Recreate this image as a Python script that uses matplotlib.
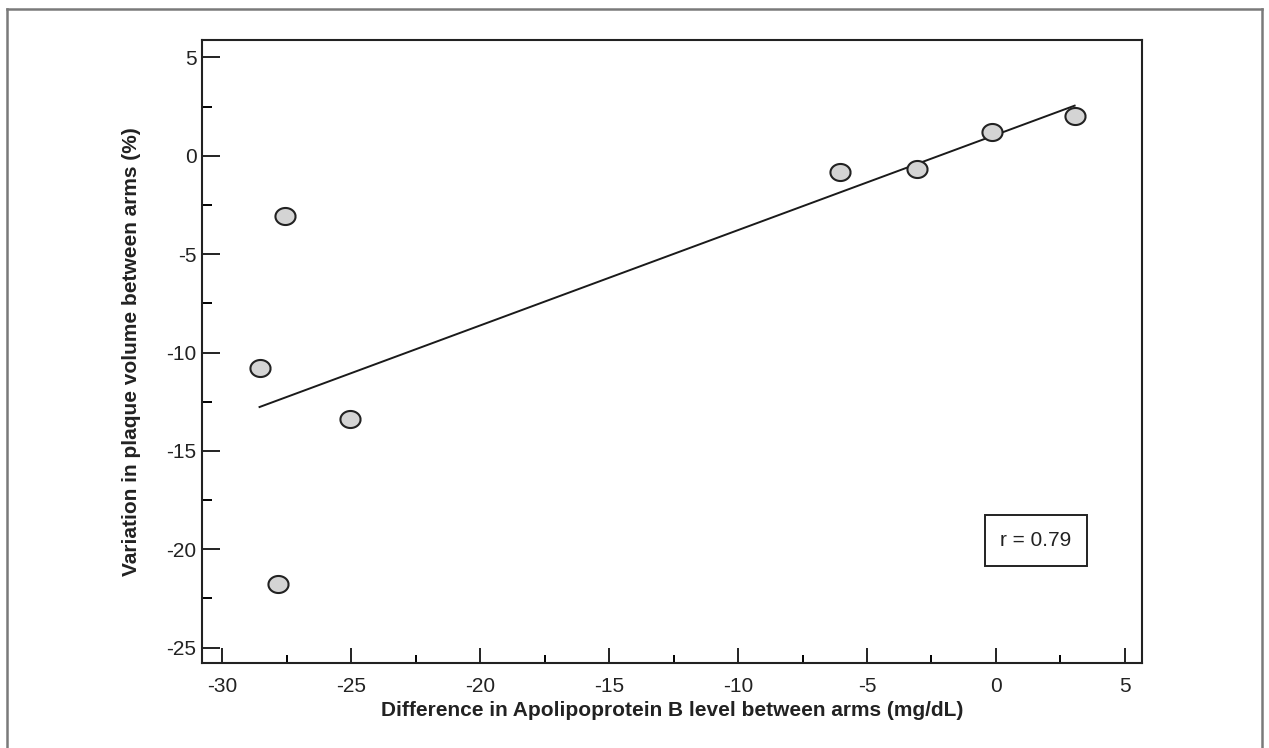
import numpy as np
import matplotlib.pyplot as plt
from matplotlib.lines import Line2D
from matplotlib.ticker import MultipleLocator

plt.rcParams['font.family'] = ['Liberation Sans', 'DejaVu Sans']
plt.rcParams['axes.unicode_minus'] = False

# difference in apo B (mg/dL) vs variation in plaque volume (%)
apob_diff = [-27.55, -28.55, -25.05, -27.85, -6.05, -3.05, -0.15, 3.05]
plaque_var = [-3.05, -10.8, -13.4, -21.75, -0.85, -0.65, 1.2, 2.0]
r_label = 'r = 0.79'

x = np.array(apob_diff)
y = np.array(plaque_var)
slope, intercept = np.polyfit(x, y, 1)
xfit = np.array([x.min(), x.max()])

fig = plt.figure(figsize=(12.69, 7.48), dpi=100)
ax = fig.add_axes([0.1592, 0.1136, 0.7407, 0.8329])

# grey frame round the figure
for xs, ys in [([0.0055, 0.0055], [0, 0.988]), ([0.0055, 0.9945], [0.988, 0.988]),
               ([0.9945, 0.9945], [0, 0.988])]:
    fig.add_artist(Line2D(xs, ys, transform=fig.transFigure, color='#7a7a7a', lw=1.8))

ax.plot(xfit, slope * xfit + intercept, color='#1a1a1a', lw=1.4, zorder=2)

t = np.linspace(0, 2 * np.pi, 60)
ellipse = np.column_stack([1.18 * np.cos(t), np.sin(t)])
ax.scatter(x, y, marker=ellipse, s=210, facecolor='#d4d4d4', edgecolor='#222222',
           linewidths=1.5, zorder=3)

ax.text(1.55, -19.55, r_label, fontsize=15, ha='center', va='center', color='#222222',
        bbox=dict(boxstyle='square,pad=0.75', facecolor='white', edgecolor='#222222', lw=1.4))

ax.set_xlim(-30.78, 5.66)
ax.set_ylim(-25.78, 5.88)
ax.xaxis.set_major_locator(MultipleLocator(5))
ax.xaxis.set_minor_locator(MultipleLocator(2.5))
ax.yaxis.set_major_locator(MultipleLocator(5))
ax.yaxis.set_minor_locator(MultipleLocator(2.5))
ax.tick_params(axis='x', which='major', direction='in', length=11, width=1.4, pad=10,
               labelsize=15, colors='#222222')
ax.tick_params(axis='x', which='minor', direction='in', length=6, width=1.4)
ax.tick_params(axis='y', which='major', direction='in', length=13, width=1.4, pad=4,
               labelsize=15, colors='#222222')
ax.tick_params(axis='y', which='minor', direction='in', length=7.5, width=1.4)
for s in ax.spines.values():
    s.set_linewidth(1.5)
    s.set_color('#222222')

ax.set_xlabel('Difference in Apolipoprotein B level between arms (mg/dL)', fontsize=15,
              fontweight='bold', color='#222222', labelpad=4)
ax.set_ylabel('Variation in plaque volume between arms (%)', fontsize=15,
              fontweight='bold', color='#222222', labelpad=18)

fig.savefig('out.png', dpi=100)
